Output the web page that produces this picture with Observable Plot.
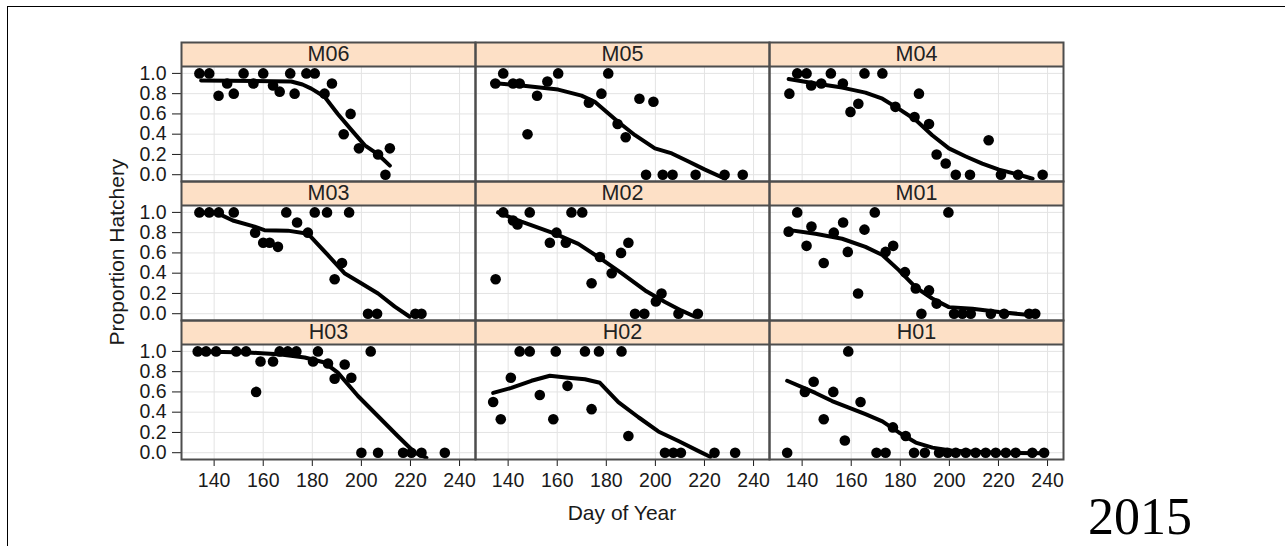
<!DOCTYPE html>
<html>
<head>
<meta charset="utf-8">
<script src="https://cdn.jsdelivr.net/npm/d3@7"></script>
<script src="https://cdn.jsdelivr.net/npm/@observablehq/plot@0.6"></script>
<style>
  html, body { margin: 0; padding: 0; background: #fff; }
  #wrap { position: relative; width: 1285px; height: 546px; overflow: hidden; }
  #border { position: absolute; left: 7px; top: 6px; width: 1290px; height: 550px; border-left: 1px solid #000; border-top: 1px solid #000; pointer-events: none; }
  #chart { position: absolute; left: 0; top: 0; }
  .ttl { position: absolute; font-family: "Liberation Sans", Arial, sans-serif; color: #1a1a1a; white-space: nowrap; }
  #ylab { left: 117px; top: 252px; font-size: 21px; transform: translate(-50%, -50%) rotate(-90deg); }
  #xlab { left: 622px; top: 513px; font-size: 21px; transform: translate(-50%, -50%); }
  #year { left: 1088px; top: 492px; font-size: 52px; line-height: 50px; height: 50px; font-family: "Liberation Serif", "Times New Roman", serif; color: #000; }
</style>
</head>
<body>
<div id="wrap">
  <div id="chart"></div>
  <div id="border"></div>
  <div class="ttl" id="ylab">Proportion Hatchery</div>
  <div class="ttl" id="xlab">Day of Year</div>
  <div class="ttl" id="year">2015</div>
</div>
<script>
// ---- Data ----
const panels = ["M06", "M05", "M04", "M03", "M02", "M01", "H03", "H02", "H01"];
const xTicks = [140, 160, 180, 200, 220, 240];
const yTicks = [0, 0.2, 0.4, 0.6, 0.8, 1.0];

const ptsM06 = [[134,1],[138,1],[141.8,0.78],[145.3,0.9],[148,0.8],[152,1],[156,0.9],[160,1],[164,0.88],[166.7,0.82],[171,1],[172.8,0.8],[177.6,1],[181,1],[185,0.8],[188,0.9],[192.8,0.4],[195.6,0.6],[199,0.26],[206.8,0.2],[209.8,0],[211.6,0.26]];
const fitM06 = [[134.7,0.93],[171.4,0.92],[176,0.89],[179.6,0.85],[185,0.77],[190.4,0.6],[196,0.44],[201.4,0.29],[206.8,0.2],[211.6,0.09]];

const ptsM05 = [[134.8,0.9],[138,1],[142,0.9],[144.7,0.9],[147.9,0.4],[151.8,0.78],[156,0.92],[160.4,1],[172.9,0.71],[178,0.8],[180.8,1],[184.6,0.5],[187.9,0.37],[193.5,0.75],[196.2,0],[199.2,0.72],[203,0],[207,0],[216.4,0],[228.2,0],[235.6,0]];
const fitM05 = [[133.5,0.905],[145.4,0.88],[160.4,0.84],[169.9,0.78],[175.3,0.72],[184.9,0.52],[191.7,0.39],[199.8,0.26],[206.7,0.21],[213.5,0.13],[220.2,0.05],[228.4,-0.04]];

const ptsM04 = [[134.8,0.8],[138,1],[141.8,1],[143.7,0.88],[147.8,0.9],[151.7,1],[156.6,0.9],[159.7,0.62],[162.9,0.7],[165.4,1],[172.7,1],[178,0.67],[185.8,0.57],[187.6,0.8],[191.7,0.5],[194.8,0.2],[198.5,0.11],[202.6,0],[208.4,0],[216,0.34],[221,0],[228,0],[238,0]];
const fitM04 = [[134.5,0.945],[145.4,0.9],[156.3,0.86],[165.8,0.81],[172.7,0.75],[179.4,0.65],[186.3,0.54],[193,0.39],[199.8,0.26],[206.7,0.18],[213.4,0.11],[220.2,0.05],[228.4,0.0],[233.9,-0.04]];

const ptsM03 = [[134,1],[138,1],[141.9,1],[148,1],[156.7,0.8],[160,0.7],[162.6,0.7],[166,0.66],[169.4,1],[173.8,0.9],[178.2,0.8],[181,1],[186,1],[189.1,0.34],[192.1,0.5],[195,1],[202.7,0],[206.4,0],[222,0],[224.5,0]];
const fitM03 = [[134,1],[141.5,0.99],[147.6,0.92],[156.5,0.86],[160.5,0.825],[170,0.82],[178.2,0.79],[186.3,0.58],[193.1,0.4],[199.9,0.3],[206.8,0.2],[213.6,0.07],[219.7,-0.03]];

const ptsM02 = [[134.9,0.34],[138,1],[142,0.92],[143.8,0.88],[148.8,1],[157,0.7],[159.7,0.8],[163.5,0.7],[165.8,1],[170.2,1],[174,0.3],[177.4,0.56],[182.2,0.4],[186,0.6],[189,0.7],[191.7,0],[195.5,0],[200.2,0.12],[202.5,0.2],[209.4,0],[217.3,0]];
const fitM02 = [[135.9,1],[145.4,0.91],[159,0.79],[168.6,0.69],[176.7,0.56],[186.2,0.4],[195.8,0.23],[203.9,0.115],[210.7,0.03],[216.2,-0.03]];

const ptsM01 = [[134.5,0.81],[138,1],[141.8,0.67],[143.8,0.86],[148.8,0.5],[152.9,0.8],[156.7,0.9],[158.6,0.61],[162.8,0.2],[165.4,0.83],[169.6,1],[174,0.61],[177.1,0.67],[181.9,0.41],[186.3,0.25],[188.6,0],[191.7,0.23],[194.8,0.1],[199.6,1],[201.9,0],[205.3,0],[208.7,0],[216.9,0],[222.3,0],[232.5,0],[235,0]];
const fitM01 = [[133.5,0.83],[145.4,0.79],[156.3,0.74],[165.8,0.66],[172.7,0.58],[179.4,0.43],[186.3,0.26],[193,0.15],[199.8,0.065],[209.4,0.05],[220.2,0.016],[233.8,-0.015]];

const ptsH03 = [[133.3,1],[136.7,1],[140.8,1],[149,1],[153,1],[157.1,0.6],[158.9,0.9],[164,0.9],[166.7,1],[170,1],[173.5,1],[180.3,0.9],[182.3,1],[186.4,0.88],[189.1,0.73],[193.2,0.87],[195.9,0.74],[200,0],[203.8,1],[206.8,0],[217,0],[220.4,0],[224.5,0],[234,0]];
const fitH03 = [[133.3,1],[153.8,0.99],[167.3,0.97],[176.9,0.94],[185,0.89],[190.4,0.79],[198.6,0.56],[206.8,0.36],[215,0.16],[221.8,0],[226.5,-0.05]];

const ptsH02 = [[133.9,0.5],[137,0.33],[141.1,0.74],[144.7,1],[148.8,1],[152.9,0.57],[158.4,0.33],[159.4,1],[164.2,0.66],[171.3,1],[174,0.43],[177,1],[186.2,1],[189,0.165],[203.9,0],[207.3,0],[210.4,0],[224.1,0],[232.5,0]];
const fitH02 = [[133.9,0.59],[141.3,0.64],[149.5,0.71],[157,0.76],[164.5,0.74],[171.3,0.725],[177.4,0.69],[184.9,0.5],[193.1,0.35],[201.2,0.21],[209.4,0.115],[217.6,0.016],[222.3,-0.04]];

const ptsH01 = [[133.9,0],[141.1,0.6],[144.7,0.7],[148.8,0.33],[152.7,0.6],[157.4,0.12],[158.8,1],[163.8,0.5],[170.3,0],[174,0],[177,0.25],[182.2,0.165],[185.6,0],[190,0],[195.8,0],[199.2,0],[202.6,0],[206.7,0],[210.7,0],[214.8,0],[218.9,0],[223,0],[227,0],[233.8,0],[238.6,0]];
const fitH01 = [[133.9,0.71],[145.4,0.59],[152.2,0.51],[159,0.445],[165.8,0.38],[172.7,0.31],[179.4,0.2],[186.3,0.1],[193.1,0.05],[201.2,0.02],[220.2,0],[239.3,-0.005]];

// ---- Build tables for Plot ----
const pointSets = [ptsM06, ptsM05, ptsM04, ptsM03, ptsM02, ptsM01, ptsH03, ptsH02, ptsH01];
const fitSets = [fitM06, fitM05, fitM04, fitM03, fitM02, fitM01, fitH03, fitH02, fitH01];

const strips = [], points = [], fits = [];
panels.forEach((name, i) => {
  const col = i % 3, row = Math.floor(i / 3);
  strips.push({name, col, row});
  pointSets[i].forEach(([d, p]) => points.push({name, col, row, day: d, prop: p}));
  fitSets[i].forEach(([d, p]) => fits.push({name, col, row, day: d, prop: p}));
});

const xDomain = [126.7, 246.5];
const yBottom = -0.067, panelTop = 1.069, stripTop = 1.305;

const chart = Plot.plot({
  width: 1285,
  height: 546,
  marginLeft: 181,
  marginRight: 222,
  marginTop: 41,
  marginBottom: 87,
  style: {fontFamily: "'Liberation Sans', Arial, sans-serif", fontSize: "19.5px", color: "#1a1a1a", background: "transparent"},
  fx: {domain: [0, 1, 2], padding: 0, axis: null, label: null},
  fy: {domain: [0, 1, 2], padding: 0, axis: null, label: null},
  x: {domain: xDomain, ticks: xTicks, tickSize: 7, tickPadding: 7, label: null},
  y: {domain: [yBottom, stripTop], ticks: yTicks, tickFormat: d3.format(".1f"), tickSize: 9, tickPadding: 6, label: null},
  marks: [
    Plot.ruleY(yTicks, {stroke: "#e3e3e3", strokeWidth: 1}),
    Plot.ruleX(xTicks, {y1: yBottom, y2: panelTop, stroke: "#e3e3e3", strokeWidth: 1}),
    Plot.rect(strips, {fx: "col", fy: "row", x1: xDomain[0], x2: xDomain[1], y1: panelTop, y2: stripTop, fill: "#fde0c6"}),
    Plot.line(fits, {fx: "col", fy: "row", x: "day", y: "prop", z: "name", stroke: "#000", strokeWidth: 4}),
    Plot.dot(points, {fx: "col", fy: "row", x: "day", y: "prop", r: 5.3, fill: "#000"}),
    Plot.text(strips, {fx: "col", fy: "row", x: (xDomain[0] + xDomain[1]) / 2, y: (panelTop + stripTop) / 2, text: "name", fontSize: 21.5, fill: "#222"}),
    Plot.ruleY([panelTop], {stroke: "#4d4d4d", strokeWidth: 2}),
    Plot.frame({stroke: "#4d4d4d", strokeWidth: 2})
  ]
});
document.getElementById("chart").appendChild(chart);
</script>
</body>
</html>
